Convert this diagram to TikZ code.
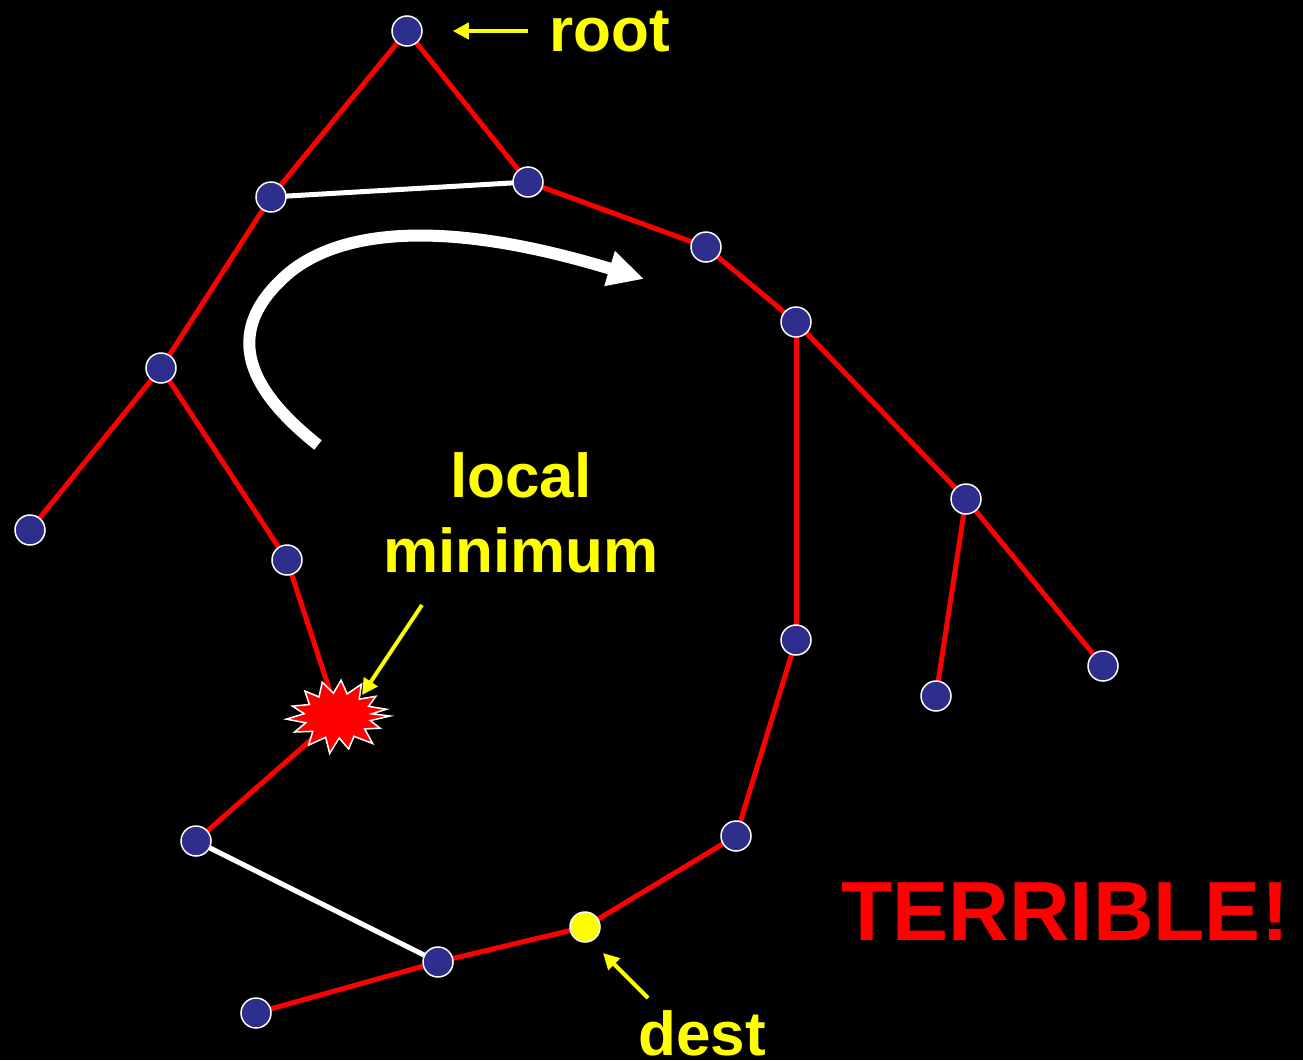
\documentclass[tikz,border=0pt]{standalone}
\usepackage{fontspec}
\setmainfont{Liberation Sans}
\usetikzlibrary{arrows.meta,calc}
\pgfdeclarelayer{bg}
\pgfdeclarelayer{edges}
\pgfsetlayers{bg,edges,main}
\definecolor{nodeblue}{RGB}{46,46,140}
\definecolor{hlyellow}{RGB}{255,255,0}
\begin{document}
\begin{tikzpicture}[x=1pt,y=-1pt,
  vert/.style={circle,fill=nodeblue,draw=white,line width=1.5pt,minimum size=30pt,inner sep=0pt},
  destv/.style={vert,fill=hlyellow},
  redge/.style={draw=red,line width=5pt},
  wedge/.style={draw=white,line width=5pt},
  ylabel/.style={text=hlyellow,font=\bfseries\fontsize{62}{75}\selectfont,inner sep=0pt,align=center},
  yarrow/.style={draw=hlyellow,line width=4pt,-{Triangle[length=16pt,width=16pt]}}
]
\begin{pgfonlayer}{bg}
\fill[black] (0,0) rectangle (1303,1060);
\end{pgfonlayer}
\node[vert] (root) at (407,31) {};
\node[vert] (a) at (271,197) {};
\node[vert] (b) at (528,182) {};
\node[vert] (c) at (706,247) {};
\node[vert] (d) at (796,322) {};
\node[vert] (e) at (161,368) {};
\node[vert] (f) at (30,530) {};
\node[vert] (g) at (287,560) {};
\node[vert] (h) at (966,499) {};
\node[vert] (i) at (796,640) {};
\node[vert] (j) at (936,696) {};
\node[vert] (k) at (1103,666) {};
\node[vert] (l) at (196,841) {};
\node[vert] (m) at (736,836) {};
\node[destv] (dest) at (585,927) {};
\node[vert] (n) at (438,962) {};
\node[vert] (o) at (256,1013) {};
\coordinate (star) at (338,716);

% starburst
\draw[fill=red,draw=white,line width=1.5pt,line join=miter]
  ($(star)+(0:52 and 34)$)
  -- ($(star)+(12:33 and 22)$) -- ($(star)+(24:46 and 30)$)
  -- ($(star)+(36:33 and 22)$) -- ($(star)+(50:54 and 36)$)
  -- ($(star)+(62:34 and 23)$) -- ($(star)+(76:44 and 34)$)
  -- ($(star)+(88:33 and 22)$) -- ($(star)+(100:48 and 38)$)
  -- ($(star)+(112:33 and 23)$) -- ($(star)+(126:50 and 36)$)
  -- ($(star)+(138:34 and 23)$) -- ($(star)+(150:50 and 32)$)
  -- ($(star)+(162:34 and 22)$) -- ($(star)+(174:52 and 30)$)
  -- ($(star)+(186:34 and 22)$) -- ($(star)+(198:48 and 32)$)
  -- ($(star)+(210:33 and 23)$) -- ($(star)+(224:46 and 36)$)
  -- ($(star)+(236:34 and 23)$) -- ($(star)+(250:46 and 36)$)
  -- ($(star)+(262:33 and 23)$) -- ($(star)+(274:44 and 36)$)
  -- ($(star)+(286:33 and 23)$) -- ($(star)+(298:50 and 36)$)
  -- ($(star)+(310:33 and 22)$) -- ($(star)+(322:48 and 32)$)
  -- ($(star)+(334:34 and 22)$) -- ($(star)+(346:50 and 28)$)
  -- ($(star)+(354:34 and 21)$) -- cycle;

\begin{pgfonlayer}{edges}
\path[redge] (root.center) -- (a.center);
\path[redge] (root.center) -- (b.center);
\path[redge] (b.center) -- (c.center);
\path[redge] (c.center) -- (d.center);
\path[redge] (a.center) -- (e.center);
\path[redge] (e.center) -- (f.center);
\path[redge] (e.center) -- (g.center);
\path[redge] (g.center) -- (star);
\path[redge] (star) -- (l.center);
\path[redge] (d.center) -- (h.center);
\path[redge] (d.center) -- (i.center);
\path[redge] (h.center) -- (j.center);
\path[redge] (h.center) -- (k.center);
\path[redge] (i.center) -- (m.center);
\path[redge] (m.center) -- (dest.center);
\path[redge] (dest.center) -- (n.center);
\path[redge] (n.center) -- (o.center);
\path[wedge] (a.center) -- (b.center);
\path[wedge] (l.center) -- (n.center);
\end{pgfonlayer}

% curved arrow
\coordinate (cs) at (318,445);
\coordinate (ce) at (644,279);
\draw[white,line width=12pt,-{Triangle[length=36pt,width=34pt]}]
  (cs) .. controls (255,395) and (215,335) .. (290,272)
  .. controls (345,228) and (450,220) .. (ce);

% labels
\node[ylabel,anchor=base west] (rootlbl) at (549,51) {root};
\coordinate (ra) at (528,31);
\draw[yarrow] (ra) -- ($(root.east)+(30,0)$);

\node[ylabel,anchor=base] (loc) at (521,497) {local};
\node[ylabel,anchor=base] (minl) at (521,572) {minimum};
\coordinate (la) at (422,605);
\coordinate (lt) at (362,695);
\draw[yarrow] (la) -- (lt);

\node[ylabel,anchor=base] (destlbl) at (702,1055) {dest};
\coordinate (da) at (648,998);
\draw[yarrow] (da) -- ($(dest)+(18,26)$);

\node[text=red,font=\bfseries\fontsize{84}{90}\selectfont,inner sep=0pt,anchor=base] (terr) at (1065,940) {TERRIBLE!};
\end{tikzpicture}
\end{document}
